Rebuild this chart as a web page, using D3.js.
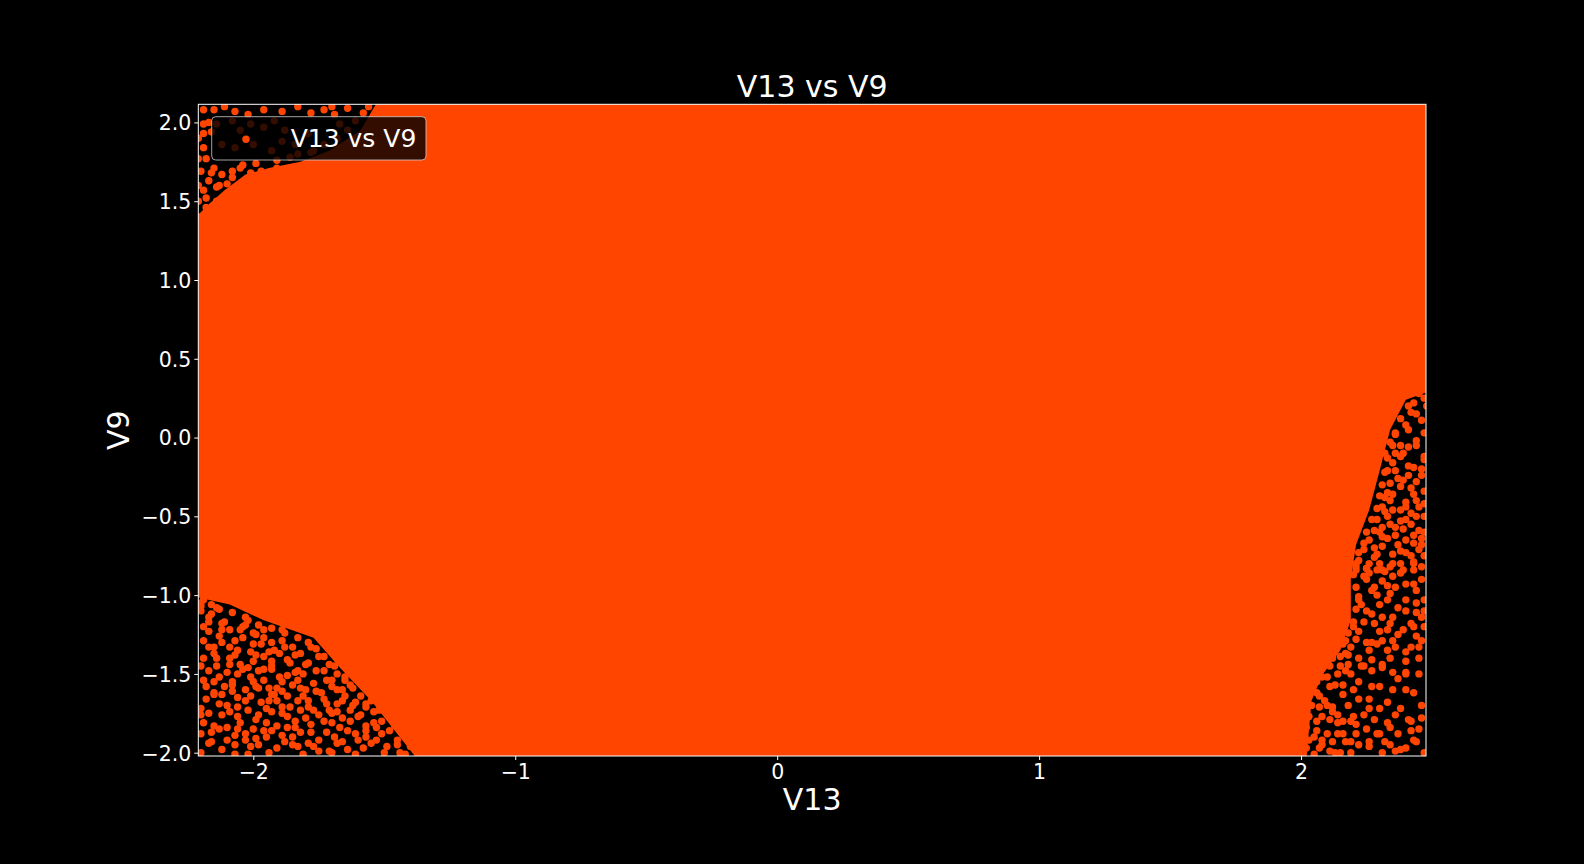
<!DOCTYPE html>
<html><head><meta charset="utf-8">
<script src="https://cdn.jsdelivr.net/npm/d3@7"></script>
<style>html,body{margin:0;background:#000;}svg{display:block;font-family:"DejaVu Sans",sans-serif;}</style>
</head><body><svg id="c" width="1584" height="864"></svg>
<script>
const chartTitle = "V13 vs V9";
const xLabel = "V13";
const yLabel = "V9";
const seriesName = "V13 vs V9";
const xTicks = [-2, -1, 0, 1, 2];
const yTicks = [-2, -1.5, -1, -0.5, 0, 0.5, 1, 1.5, 2];

// outline of the saturated core where points overlap completely (data units)
const denseV13 = [-1.52, 2.55, 2.55, 2.40, 2.34, 2.30, 2.26, 2.21, 2.19, 2.19, 2.15, 2.08, 2.04, 2.02, -1.37, -1.55, -1.67, -1.77, -1.96, -2.09, -2.25, -2.25, -2.17, -2.11, -2.03, -1.94, -1.82, -1.71, -1.59];
const denseV9  = [2.15, 2.15, 0.33, 0.24, 0.05, -0.21, -0.46, -0.68, -0.90, -1.16, -1.35, -1.51, -1.67, -2.05, -2.05, -1.67, -1.46, -1.27, -1.16, -1.06, -1.00, 1.35, 1.48, 1.57, 1.67, 1.71, 1.75, 1.82, 1.95];

// individual points in the sparse bottom-left corner
const blV13 = [-2.19,-2.15,-2.19,-2.17,-2.14,-2.10,-2.15,-2.19,-2.08,-2.08,
-2.18,-2.13,-2.10,-2.06,-2.03,-2.01,-2.02,-2.05,-1.98,-1.96,
-1.94,-1.98,-2.01,-1.97,-1.94,-1.91,-1.90,-1.87,-1.85,-1.87,
-1.91,-1.86,-1.83,-1.93,-1.98,-2.02,-2.05,-2.12,-2.13,-2.10,
-2.19,-2.20,-2.03,-2.03,-2.01,-1.98,-1.95,-1.91,-1.89,-1.91,
-1.87,-1.84,-1.82,-1.79,-1.80,-1.83,-1.77,-1.74,-1.77,-1.75,
-1.78,-1.82,-1.85,-1.83,-1.79,-1.75,-1.72,-1.70,-1.71,-1.68,
-1.68,-1.65,-1.63,-1.66,-1.64,-1.68,-1.64,-1.71,-1.75,-1.60,
-1.57,-1.60,-1.57,-1.55,-1.52,-1.54,-1.51,-1.55,-1.49,-1.45,
-1.46,-1.42,-1.40,-1.40,-1.44,-1.63,-1.59,
-2.20,-2.16,-2.12,-2.09,-2.19,-2.13,-2.07,-2.05,-2.02,-2.00,
-1.97,-2.06,-1.96,-1.92,-1.89,-1.87,-1.93,-1.85,-1.82,-1.79,
-1.83,-1.78,-1.75,-1.89,-1.96,-1.73,-1.70,-1.69,-1.65,-1.55,
-1.50,-1.47,-1.37,-1.35,-1.32,
-2.16,-2.12,-2.07,-2.17,-2.06,-2.00,-1.95,-1.93,-2.11,-2.06,-2.13,-2.09,-2.15,-1.99,-1.93,
-2.19,-2.16,-2.20,-2.13];
const blV9 = [-1.29,-1.37,-1.40,-1.48,-1.45,-1.49,-1.55,-1.54,-1.55,-1.61,
-1.66,-1.69,-1.70,-1.71,-1.60,-1.52,-1.46,-1.44,-1.48,-1.54,
-1.59,-1.59,-1.64,-1.68,-1.67,-1.59,-1.52,-1.51,-1.57,-1.64,
-1.67,-1.71,-1.67,-1.74,-1.76,-1.73,-1.81,-1.76,-1.85,-1.84,
-1.81,-1.88,-1.88,-1.92,-1.96,-1.95,-1.81,-1.83,-1.89,-1.97,
-1.77,-1.80,-1.73,-1.67,-1.60,-1.54,-1.56,-1.62,-1.73,-1.76,
-1.82,-1.87,-1.90,-1.96,-1.94,-1.92,-1.87,-1.81,-1.73,-1.69,
-1.60,-1.64,-1.73,-1.78,-1.86,-1.94,-1.98,-1.99,-1.99,-1.92,
-1.83,-1.77,-1.71,-1.67,-1.73,-1.81,-1.88,-1.94,-1.96,-1.92,
-1.83,-1.77,-1.88,-1.96,-2.00,-1.57,-1.56,
-1.07,-1.12,-1.18,-1.22,-1.20,-1.26,-1.29,-1.22,-1.16,-1.24,
-1.31,-1.35,-1.39,-1.35,-1.29,-1.41,-1.45,-1.33,-1.37,-1.43,
-1.48,-1.33,-1.39,-1.22,-1.22,-1.48,-1.54,-1.45,-1.52,-1.58,
-1.64,-1.73,-1.83,-1.92,-1.98,
-1.93,-1.98,-1.95,-1.75,-1.77,-1.85,-1.90,-1.63,-1.58,-1.50,-1.52,-1.40,-1.33,-1.38,-1.42,
-1.03,-1.06,-1.10,-1.09];
// more bottom-left points, close to the edge of the core and in the gaps
const blMoreV13 = [-2.20,-2.14,-2.08,-2.03,-1.98,-1.93,-1.88,-1.83,-1.79,-1.76,-1.73,-1.71,-1.68,-1.65,-1.62,-1.59,-1.57,-1.54,-1.51,-1.48,-1.45,-1.42,
-2.17,-2.11,-2.04,-1.99,-1.93,-1.88,-1.84,-1.80,-1.76,-1.72,-1.70,-1.66,-1.62,-1.59,-1.57,-1.53,-1.50,
-2.17,-2.12,-2.04,-2.00,-1.94,-2.09,-2.00,-1.96,-2.12,-2.06,-1.95,-1.89,-1.81,-1.73,-1.70,-1.67,-1.61,-1.58,-1.69,-1.78,
-1.87,-1.96,-2.07,-2.16,-2.07,-1.94,-1.85,-2.15,-2.20,-2.20,-2.09,-1.99,-1.89,-1.84,-1.80];
const blMoreV9 = [-1.05,-1.08,-1.11,-1.14,-1.19,-1.21,-1.24,-1.27,-1.30,-1.34,-1.39,-1.44,-1.50,-1.54,-1.59,-1.64,-1.69,-1.74,-1.80,-1.86,-1.95,-2.01,
-1.14,-1.17,-1.20,-1.25,-1.30,-1.33,-1.38,-1.44,-1.48,-1.54,-1.58,-1.67,-1.70,-1.76,-1.86,-1.92,-2.00,
-1.23,-1.30,-1.27,-1.31,-1.36,-1.44,-1.42,-1.47,-1.63,-1.65,-1.72,-1.71,-1.64,-1.66,-1.75,-1.84,-1.88,-1.97,-1.90,-1.87,
-1.84,-1.86,-1.89,-1.87,-2.01,-2.00,-1.95,-1.63,-1.72,-1.45,-1.33,-1.58,-1.61,-1.49,-1.78];
const blExtraV13 = [-2.17,-2.12,-2.03,-1.96,-2.07,-2.17,-2.01,-1.90,-1.86,-2.14,
-2.04,-1.93,-1.81,-2.18,-2.08,-2.00,-1.89,-1.76,-2.15,-2.03,
-1.92,-1.82,-1.72,-2.20,-2.09,-1.99,-1.89,-1.79,-1.68,-2.15,
-2.06,-1.93,-1.84,-1.73,-1.63,-2.17,-2.10,-1.99,-1.88,-1.77,
-1.66,-1.57,-2.20,-2.02,-1.81,-1.70,-1.61,-1.53,-1.61,-1.66];
const blExtraV9 = [-1.17,-1.22,-1.19,-1.27,-1.38,-1.33,-1.36,-1.37,-1.43,-1.40,
-1.47,-1.47,-1.50,-1.58,-1.57,-1.55,-1.55,-1.61,-1.62,-1.67,
-1.63,-1.59,-1.69,-1.76,-1.74,-1.79,-1.75,-1.71,-1.74,-1.83,
-1.85,-1.86,-1.84,-1.80,-1.80,-1.94,-1.92,-1.91,-1.93,-1.96,
-1.93,-1.90,-2.00,-2.01,-2.01,-2.00,-2.01,-1.84,-1.68,-1.60];

// individual points along the sparse right-hand side
const rV13 = [2.45,2.44,2.43,2.46,2.40,2.36,2.41,2.44,2.47,2.38,
2.41,2.43,2.39,2.46,2.38,2.35,2.42,2.44,2.45,2.40,
2.35,2.38,2.42,2.45,2.34,2.36,2.40,2.43,2.45,2.40,
2.35,2.31,2.31,2.31,2.43,2.46,2.34,2.38,
2.34,2.32,2.35,2.33,2.36,2.34,2.32,2.31,2.33,2.29,
2.28,2.26,2.24,2.22,2.28,2.30,2.25,2.40,2.42,2.47,
2.47,2.47,2.47,2.42,2.48,2.38,2.46,2.47,2.39,2.29,
2.21,
2.21,2.25,2.31,2.35,2.38,2.43,2.24,2.33,2.34,2.40,
2.43,2.40,2.44,2.44,2.23,2.17,2.31,2.34,2.33,2.42,
2.47,2.22,2.25,2.26,2.29,2.31,2.35,2.36,2.40,2.42,
2.44,2.46,2.17,2.18,2.23,2.24,2.31,2.31,2.35,2.40,
2.16,2.26,2.20,2.24,2.28,2.21,2.21,2.29,2.33,2.34,
2.36,2.41,2.42,2.42,2.43,2.17,2.22,2.26,2.32,2.31,
2.38,2.36,2.40,
1.98,2.01,1.98,2.07,2.10,2.12,2.08,2.11,2.14,2.14,
2.03,2.00,1.97,2.02,2.06,2.10,2.14,1.98,2.03,2.08,
2.12,2.01,2.07,2.11,2.15,1.98,2.05,2.16,
2.15,2.17,2.11,2.14,2.08,2.03,2.11,2.06];
const rV9 = [0.39,0.29,0.22,0.11,0.08,0.02,-0.06,-0.05,-0.12,-0.12,
-0.18,-0.19,-0.27,-0.24,-0.31,-0.36,-0.32,-0.40,-0.44,-0.44,
-0.46,-0.53,-0.55,-0.59,-0.55,-0.62,-0.65,-0.67,-0.71,-0.73,
-0.74,-0.69,-0.63,-0.57,-0.79,-0.82,-0.82,-0.80,
-0.03,-0.10,-0.16,-0.21,-0.21,-0.29,-0.38,-0.44,-0.50,-0.52,
-0.59,-0.65,-0.71,-0.78,-0.76,-0.80,-0.83,-0.41,-0.48,-0.50,
-0.34,-0.14,0.03,0.16,0.20,-0.05,-0.64,-0.75,-0.84,-0.84,
-0.84,
-0.82,-0.83,-0.84,-0.80,-0.86,-0.80,-0.88,-0.94,-0.99,-0.93,
-0.93,-1.03,-1.05,-1.11,-1.06,-1.04,-1.14,-1.18,-1.22,-1.18,
-1.20,-1.23,-1.30,-1.35,-1.31,-1.29,-1.29,-1.33,-1.36,-1.33,
-1.26,-1.29,-1.29,-1.44,-1.45,-1.45,-1.44,-1.46,-1.49,-1.49,
-1.63,-1.66,-1.77,-1.76,-1.79,-1.82,-1.88,-1.88,-1.81,-1.84,
-1.76,-1.79,-1.80,-1.86,-1.92,-1.93,-1.95,-1.93,-1.93,-2.00,
-1.98,-1.99,-1.97,
-1.60,-1.62,-1.69,-1.71,-1.70,-1.71,-1.77,-1.79,-1.76,-1.81,
-1.77,-1.79,-1.84,-1.84,-1.86,-1.88,-1.88,-1.90,-1.92,-1.92,
-1.93,-1.96,-1.97,-1.99,-2.00,-1.99,-2.01,-1.57,
-1.39,-1.37,-1.45,-1.50,-1.52,-1.56,-1.58,-1.62];
// more right-hand points, close to the edge of the core and in the gaps
const rMoreV13 = [2.45,2.41,2.38,2.36,2.35,2.33,2.32,2.31,2.30,2.29,2.27,2.25,2.24,2.22,2.21,2.20,2.21,2.22,2.21,2.20,2.18,2.16,2.12,2.09,2.06,2.03,2.01,2.00,1.99,1.99,
2.47,2.44,2.41,2.39,2.37,2.34,2.32,2.30,2.28,2.26,2.25,2.27,2.25,2.24,2.21,2.18,2.15,2.19,2.10,2.07,2.04,2.05,2.02,
2.44,2.46,2.41,2.43,2.47,2.38,2.44,2.39,2.47,2.43,2.37,2.42,2.35,2.46,2.31,2.29,2.37,2.47,2.30,2.39,
2.28,2.45,2.34,2.27,2.22,2.30,2.40,2.46,2.33,2.18,2.26,2.16,2.26,2.45,2.19];
const rMoreV9 = [0.28,0.20,0.12,0.03,-0.05,-0.13,-0.22,-0.30,-0.37,-0.45,-0.52,-0.60,-0.67,-0.73,-0.80,-0.87,-0.95,-1.01,-1.09,-1.17,-1.24,-1.31,-1.40,-1.44,-1.55,-1.63,-1.73,-1.82,-1.90,-1.97,
0.25,0.15,0.05,-0.10,-0.26,-0.40,-0.47,-0.60,-0.70,-0.80,-0.90,-0.97,-1.10,-1.17,-1.28,-1.38,-1.45,-1.50,-1.52,-1.64,-1.70,-1.90,-1.97,
-0.02,-0.20,-0.24,-0.36,-0.42,-0.46,-0.50,-0.58,-0.60,-0.62,-0.68,-0.75,-0.88,-0.90,-0.91,-1.00,-1.08,-1.03,-1.06,-1.22,
-1.18,-1.40,-1.40,-1.41,-1.55,-1.58,-1.60,-1.70,-1.68,-1.70,-1.72,-1.80,-1.96,-1.85,-2.00];
const rExtraV13 = [2.36,2.44,2.33,2.40,2.36,2.33,2.46,2.38,2.29,2.43,
2.32,2.26,2.28,2.36,2.44,2.22,2.33,2.40,2.27,2.35,
2.46,2.20,2.30,2.43,2.37,2.19,2.27,2.33,2.45,2.22,
2.40,2.17,2.27,2.37,2.45,2.13,2.20,2.27,2.35,2.43,
2.09,2.22,2.30,2.38,2.46,2.12,2.19,2.30,2.37,2.44,
2.08,2.16,2.25,2.34,2.47,2.19,2.06,2.13,2.40,2.47];
const rExtraV9 = [-0.10,-0.28,-0.35,-0.52,-0.57,-0.64,-0.68,-0.72,-0.74,-0.84,
-0.85,-0.86,-0.95,-0.95,-0.97,-1.03,-1.03,-1.10,-1.12,-1.14,
-1.14,-1.20,-1.23,-1.20,-1.25,-1.33,-1.30,-1.35,-1.33,-1.40,
-1.42,-1.48,-1.48,-1.53,-1.50,-1.57,-1.60,-1.58,-1.60,-1.62,
-1.67,-1.66,-1.72,-1.72,-1.78,-1.74,-1.80,-1.88,-1.88,-1.93,
-1.95,-1.88,-1.85,-1.95,-2.00,-1.93,-1.80,-2.00,-1.50,-1.10];

// individual points in the top-left corner
const tlV13 = [-2.19,-2.15,-2.11,-2.07,-2.02,-1.96,-1.89,-1.83,-1.78,-1.73,
-2.19,-2.19,-2.19,-2.18,-2.20,-2.15,-2.17,-2.12,-2.19,-2.14,
-2.10,-2.14,-2.18,-2.08,-2.05,-2.01,-1.97,-2.03,-1.98,-1.94,
-1.91,-1.87,-1.83,-1.79,-1.75,
-2.14,-2.08,-2.05,-2.01,-1.96,-1.92,-1.88,-2.07,-2.12,-2.00,
-1.93,-1.89,-1.84,-1.83,-1.77,-1.79,
-2.21,-2.18,-2.13,-2.08,-2.04,-1.99,-1.91,-1.86,-1.78,-1.73,-1.68,-1.64,-1.61,-1.58,-1.56,-1.64,-1.69,-1.70,-1.67,-2.21,-2.21,-2.16,-2.21,-2.21,-2.16,-2.17];
const tlV9 = [2.08,2.08,2.10,2.07,2.05,2.08,2.07,2.10,2.06,2.08,
1.99,1.93,1.84,1.77,1.69,1.71,1.63,1.67,1.57,1.59,
1.61,1.50,1.46,1.69,1.71,1.68,1.69,1.61,1.60,1.65,
1.71,1.69,1.67,1.71,1.69,
1.99,2.01,1.95,1.99,1.97,2.01,1.95,1.84,1.86,1.86,
1.82,1.88,1.86,1.80,1.82,1.93,
1.40,1.52,1.60,1.65,1.73,1.74,1.76,1.78,1.81,1.86,1.90,1.95,2.01,2.06,2.10,2.09,2.05,2.10,1.99,1.50,1.60,1.68,1.77,1.90,1.94,2.00];

const COLOR = "#ff4500";
const L = 198.3, R = 1426, T = 104.3, B = 756;

const svg = d3.select("#c");
svg.append("rect").attr("width", 1584).attr("height", 864).attr("fill", "#000");

const x = d3.scaleLinear().domain([-2.21, 2.477]).range([L, R]);
const y = d3.scaleLinear().domain([-2.021, 2.115]).range([B, T]);

svg.append("defs").append("clipPath").attr("id", "clip")
  .append("rect").attr("x", L).attr("y", T).attr("width", R - L).attr("height", B - T);

const plot = svg.append("g").attr("clip-path", "url(#clip)");

const core = d3.zip(denseV13, denseV9);
const line = d3.line().x(d => x(d[0])).y(d => y(d[1]));
plot.append("path").attr("d", line(core) + "Z").attr("fill", COLOR);

const pts = [].concat(
  d3.zip(blV13, blV9), d3.zip(blMoreV13, blMoreV9), d3.zip(blExtraV13, blExtraV9),
  d3.zip(rV13, rV9), d3.zip(rMoreV13, rMoreV9), d3.zip(rExtraV13, rExtraV9),
  d3.zip(tlV13, tlV9));
plot.selectAll("circle.pt").data(pts).join("circle")
  .attr("class", "pt")
  .attr("cx", d => x(d[0])).attr("cy", d => y(d[1])).attr("r", 3.7)
  .attr("fill", COLOR);

const minus = s => s.replace(/-/g, "\u2212");

const xa = svg.append("g").attr("transform", `translate(0,${B})`)
  .call(d3.axisBottom(x).tickValues(xTicks).tickSize(4).tickPadding(4).tickFormat(d => minus(d3.format("d")(d))));
const ya = svg.append("g").attr("transform", `translate(${L},0)`)
  .call(d3.axisLeft(y).tickValues(yTicks).tickSize(4).tickPadding(3).tickFormat(d => minus(d3.format(".1f")(d))));
[xa, ya].forEach(a => {
  a.select(".domain").remove();
  a.selectAll(".tick line").attr("stroke", "#fff").attr("stroke-width", 1);
  a.selectAll(".tick text").attr("fill", "#fff").attr("font-size", 20.5).attr("font-family", "DejaVu Sans");
});
ya.selectAll(".tick text").attr("dy", "0.36em");

svg.append("rect").attr("x", L).attr("y", T).attr("width", R - L).attr("height", B - T)
  .attr("fill", "none").attr("stroke", "#fff").attr("stroke-width", 1);

svg.append("text").attr("x", (L + R) / 2).attr("y", 96.5).attr("text-anchor", "middle")
  .attr("fill", "#fff").attr("font-size", 30).text(chartTitle);
svg.append("text").attr("x", (L + R) / 2).attr("y", 810).attr("text-anchor", "middle")
  .attr("fill", "#fff").attr("font-size", 30).text(xLabel);
svg.append("text").attr("transform", `translate(129,${(T + B) / 2}) rotate(-90)`).attr("text-anchor", "middle")
  .attr("fill", "#fff").attr("font-size", 30).text(yLabel);

const lg = svg.append("g");
lg.append("rect").attr("x", 211.7).attr("y", 116.7).attr("width", 214.3).attr("height", 43.3).attr("rx", 4)
  .attr("fill", "#000").attr("fill-opacity", 0.8).attr("stroke", "#cccccc").attr("stroke-opacity", 0.8);
lg.append("circle").attr("cx", 246).attr("cy", 139.3).attr("r", 3.7).attr("fill", COLOR);
lg.append("text").attr("x", 290.7).attr("y", 146.5).attr("fill", "#fff").attr("font-size", 25).text(seriesName);
</script></body></html>
